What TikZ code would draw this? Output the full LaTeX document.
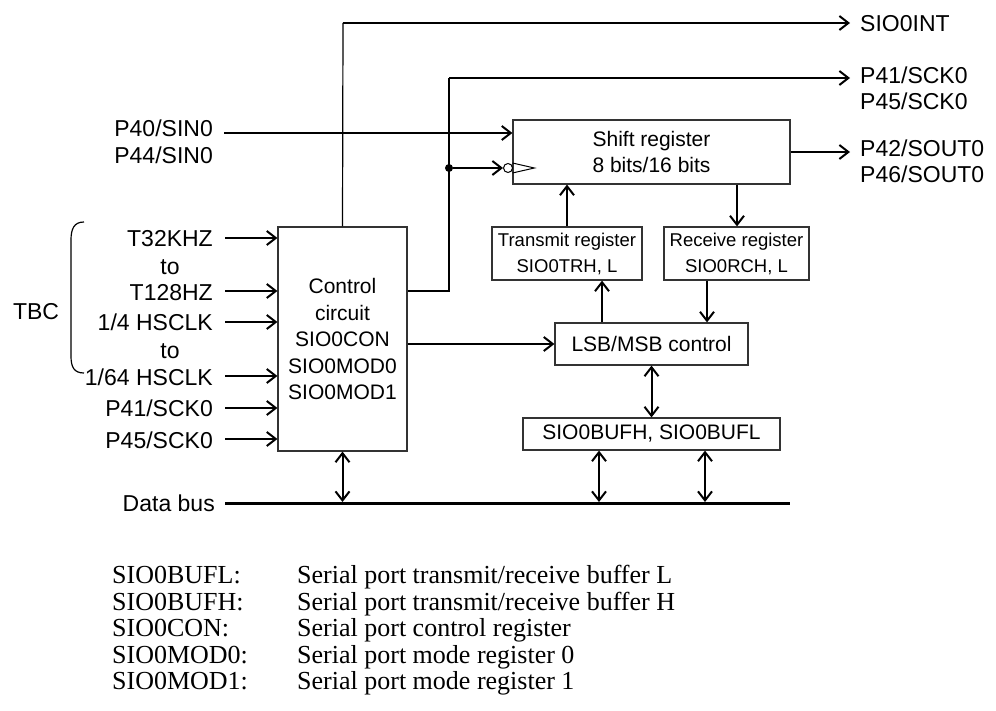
\documentclass[tikz,border=0pt]{standalone}
\usepackage{fontspec}
\setmainfont{Liberation Sans}
\newfontfamily\legfont{Liberation Serif}
\usetikzlibrary{arrows.meta,calc}
\begin{document}
\begin{tikzpicture}[x=1pt,y=-1pt,
  >={Straight Barb[length=9pt,width=14pt]},
  arr/.style={->,line width=2pt},
  darr/.style={<->,line width=2pt},
  wire/.style={line width=1.2pt},
  bus/.style={line width=3.5pt},
  blk/.style={draw=black!80,line width=1.2pt,rectangle,inner sep=0pt,align=center,font=\fontsize{21}{26}\selectfont},
  sblk/.style={blk,font=\fontsize{18.5}{26}\selectfont},
  lbl/.style={inner sep=0pt,font=\fontsize{23}{27}\selectfont,text height=16.5pt,text depth=0pt},
  leg/.style={inner sep=0pt,anchor=west,font=\legfont\fontsize{26}{28}\selectfont,text height=17.2pt,text depth=0pt},
]
\useasboundingbox (0,0) rectangle (996,711);

% blocks
\node[blk,minimum width=129pt,minimum height=224pt,font=\fontsize{21}{26.5}\selectfont] (ctrl) at (342.5,339)
  {Control\\circuit\\SIO0CON\\SIO0MOD0\\SIO0MOD1};
\node[blk,minimum width=277pt,minimum height=64pt] (shift) at (651.5,152) {Shift register\\8 bits/16 bits};
\node[sblk,minimum width=150pt,minimum height=53pt] (tx) at (567,253.5) {Transmit register\\SIO0TRH, L};
\node[sblk,minimum width=145pt,minimum height=53pt] (rx) at (736.5,253.5) {Receive register\\SIO0RCH, L};
\node[blk,minimum width=193pt,minimum height=42pt] (lsb) at (651.5,344) {LSB/MSB control};
\node[blk,minimum width=257pt,minimum height=32pt] (buf) at (651.5,434) {SIO0BUFH, SIO0BUFL};

% right labels
\node[lbl,anchor=west] (lINT) at (860,23) {SIO0INT};
\node[lbl,anchor=west] (lP41o) at (860,75) {P41/SCK0};
\node[lbl,anchor=west] (lP45o) at (860,101) {P45/SCK0};
\node[lbl,anchor=west] (lP42) at (860,148) {P42/SOUT0};
\node[lbl,anchor=west] (lP46) at (860,174) {P46/SOUT0};

% left labels
\node[lbl,anchor=east] (lP40) at (213,128) {P40/SIN0};
\node[lbl,anchor=east] (lP44) at (213,155) {P44/SIN0};
\node[lbl,anchor=east] (l1) at (213,238) {T32KHZ};
\node[lbl] (to1) at (170,266) {to};
\node[lbl,anchor=east] (l2) at (213,292) {T128HZ};
\node[lbl,anchor=east] (l3) at (213,322) {1/4 HSCLK};
\node[lbl] (to2) at (170,350) {to};
\node[lbl,anchor=east] (l4) at (213,377) {1/64 HSCLK};
\node[lbl,anchor=east] (l5) at (213,408) {P41/SCK0};
\node[lbl,anchor=east] (l6) at (213,440) {P45/SCK0};
\node[lbl] (tbc) at (36,311) {TBC};
\node[lbl,anchor=east] (ldb) at (215,503) {Data bus};

% brace
\draw[wire] (84,222) .. controls (74,222) and (71,229) .. (71,240) -- (71,356)
  .. controls (71,367) and (74,373) .. (84,373);

% inputs to control
\foreach \n/\y in {l1/238,l2/291,l3/322,l4/376,l5/408,l6/439}{
  \draw[arr] ([xshift=12pt]\n.east |- 0,\y) -- (ctrl.west |- 0,\y);
}

% SIO0INT
\coordinate (t1) at (343,23);
\draw[wire] (ctrl.north) -- (t1);
\draw[arr] (t1) -- ([xshift=-10pt]lINT.west |- t1);

% SCK out
\coordinate (c1) at (449,291);
\coordinate (c2) at (449,78);
\draw[wire] (ctrl.east |- c1) -- (c1) -- (c2);
\draw[arr] (c2) -- ([xshift=-10pt]lP41o.west |- c2);

% clock into shift register
\node[circle,fill,minimum size=8pt,inner sep=0pt] (dot) at (449,168) {};
\node[circle,draw,line width=1pt,minimum size=9pt,inner sep=0pt] (bub) at (508,168) {};
\draw[arr] (dot) -- (bub.west);
\draw[line width=1pt] ([yshift=5pt]shift.west |- bub) -- ([xshift=22pt]shift.west |- bub) -- ([yshift=-5pt]shift.west |- bub);

% serial in
\coordinate (sin) at (0,133);
\draw[arr] ([xshift=11pt]lP40.east |- sin) -- (shift.west |- sin);

% serial out
\draw[arr] (shift.east) -- ([xshift=-10pt]lP42.west |- shift.east);

% shift <-> tx/rx
\coordinate (xr) at (737,0);
\draw[arr] (tx.north) -- (shift.south -| tx.north);
\draw[arr] (shift.south -| xr) -- (rx.north -| xr);

% lsb <-> tx/rx
\coordinate (xt) at (602,0);
\coordinate (xq) at (707,0);
\draw[arr] (lsb.north -| xt) -- (tx.south -| xt);
\draw[arr] (rx.south -| xq) -- (lsb.north -| xq);

% control -> lsb
\draw[arr] (ctrl.east |- lsb.west) -- (lsb.west);

% lsb <-> buf
\draw[darr] (lsb.south) -- (buf.north);

% data bus
\coordinate (busend) at (790,503.5);
\coordinate (busx1) at (599,0);
\coordinate (busx2) at (705,0);
\draw[bus] ([xshift=10pt]ldb.east |- busend) -- (busend);
\draw[darr] (ctrl.south) -- ([yshift=1.5pt]ctrl.south |- busend);
\draw[darr] (buf.south -| busx1) -- ([yshift=1.5pt]busx1 |- busend);
\draw[darr] (buf.south -| busx2) -- ([yshift=1.5pt]busx2 |- busend);

% legend
\foreach \k/\d/\y [count=\i] in {SIO0BUFL:/Serial port transmit\slash receive buffer L/575,
  SIO0BUFH:/Serial port transmit\slash receive buffer H/601.5,
  SIO0CON:/Serial port control register/628,
  SIO0MOD0:/Serial port mode register 0/654.5,
  SIO0MOD1:/Serial port mode register 1/681}{
  \node[leg] (k\i) at (112,\y) {\k};
  \node[leg] (d\i) at (297,\y) {\d};
}
\end{tikzpicture}
\end{document}
